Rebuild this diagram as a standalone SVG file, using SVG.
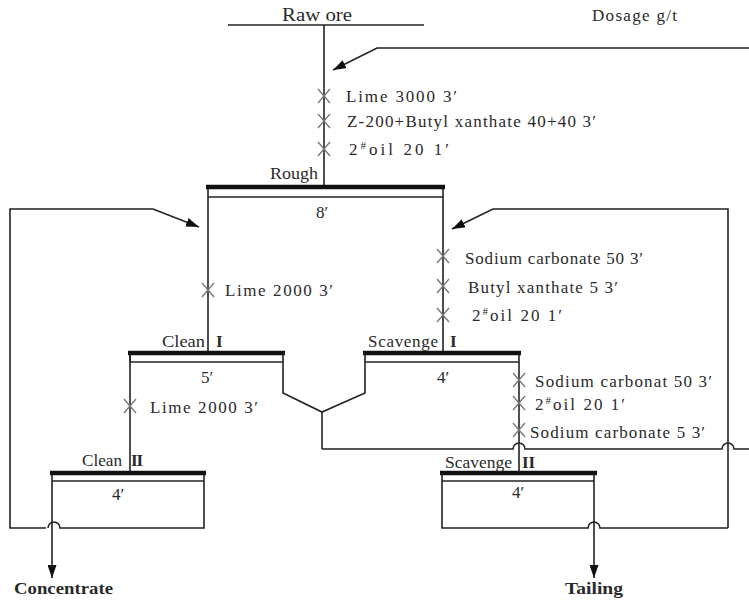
<svg xmlns="http://www.w3.org/2000/svg" width="749" height="605" viewBox="0 0 749 605">
<style>
text{font-family:"Liberation Serif","Times New Roman",serif;fill:#2a2a2a;font-size:17px}
.ln{fill:none;stroke:#222;stroke-width:1.6}
.bar{stroke:#111;stroke-width:4.5}
.thin{stroke:#222;stroke-width:1.3}
.x{stroke:#777;stroke-width:1.3}
.big{font-size:18px}
.b{font-weight:bold;font-size:17px}
.sup{font-size:11px}
</style>
<defs>
<marker id="ah" viewBox="0 0 13 9" refX="13" refY="4.5" markerWidth="13" markerHeight="9" markerUnits="userSpaceOnUse" orient="auto"><path d="M0,0 L13,4.5 L0,9 z" fill="#111"/></marker>
<symbol id="xm" overflow="visible"><path class="x" d="M-6,-7 L6,7 M-6,7 L6,-7"/></symbol>
</defs>
<rect width="749" height="605" fill="#fff"/>

<g id="header">
<text x="282" y="21" class="big" textLength="70" lengthAdjust="spacingAndGlyphs">Raw ore</text>
<text x="592" y="21" font-size="15" textLength="85" lengthAdjust="spacing">Dosage g/t</text>
<line class="ln" x1="228" y1="25" x2="424" y2="25"/>
</g>

<g id="connectors">
<line class="ln" x1="324" y1="25" x2="324" y2="187"/>
<polyline class="ln" points="749,48 377,48 333,70" marker-end="url(#ah)"/>
<line class="ln" x1="208" y1="187" x2="208" y2="353"/>
<line class="ln" x1="443" y1="187" x2="443" y2="353"/>
<line class="ln" x1="130" y1="353" x2="130" y2="473"/>
<polyline class="ln" points="283,362 283,393 322,412 365,393 365,362"/>
<line class="ln" x1="322" y1="412" x2="322" y2="449"/>
<path class="ln" d="M322,449 L513,449 A6,6 0 0 1 525,449 L722,449 A6,6 0 0 1 734,449 L749,449"/>
<line class="ln" x1="519" y1="353" x2="519" y2="473"/>
<polyline class="ln" points="46,528 10,528 10,209 153,209 199,227" marker-end="url(#ah)"/>
<polyline class="ln" points="728,528 728,209 493,209 452,229" marker-end="url(#ah)"/>
<line class="ln" x1="52" y1="481" x2="52" y2="578" marker-end="url(#ah)"/>
<line class="ln" x1="594" y1="481" x2="594" y2="578" marker-end="url(#ah)"/>
</g>

<g id="reagents">
<use href="#xm" x="324" y="96"/>
<use href="#xm" x="324" y="121"/>
<use href="#xm" x="324" y="149"/>
<text x="346" y="102" textLength="111" lengthAdjust="spacing">Lime 3000 3′</text>
<text x="347" y="127" textLength="249" lengthAdjust="spacing">Z-200+Butyl xanthate 40+40 3′</text>
<text x="349" y="155" textLength="100" lengthAdjust="spacing">2<tspan class="sup" dy="-6">#</tspan><tspan dy="6">oil  20  1′</tspan></text>

<use href="#xm" x="208" y="290"/>
<text x="225" y="296" textLength="108" lengthAdjust="spacing">Lime 2000 3′</text>

<use href="#xm" x="443" y="256"/>
<use href="#xm" x="443" y="286"/>
<use href="#xm" x="443" y="315"/>
<text x="465" y="264" textLength="178" lengthAdjust="spacing">Sodium carbonate 50 3′</text>
<text x="468" y="293" textLength="150" lengthAdjust="spacing">Butyl xanthate 5 3′</text>
<text x="472" y="321" textLength="90" lengthAdjust="spacing">2<tspan class="sup" dy="-6">#</tspan><tspan dy="6">oil  20  1′</tspan></text>

<use href="#xm" x="130" y="406"/>
<text x="150" y="413" textLength="108" lengthAdjust="spacing">Lime 2000 3′</text>

<use href="#xm" x="519" y="380"/>
<use href="#xm" x="519" y="403"/>
<use href="#xm" x="519" y="430"/>
<text x="535" y="387" textLength="177" lengthAdjust="spacing">Sodium carbonat 50 3′</text>
<text x="535" y="410" textLength="90" lengthAdjust="spacing">2<tspan class="sup" dy="-6">#</tspan><tspan dy="6">oil 20 1′</tspan></text>
<text x="530" y="438" textLength="175" lengthAdjust="spacing">Sodium carbonate 5 3′</text>
</g>

<g id="rough">
<line class="bar" x1="206" y1="187" x2="445" y2="187"/>
<line class="thin" x1="208" y1="197" x2="443" y2="197"/>
<text x="270" y="179" textLength="48" lengthAdjust="spacingAndGlyphs">Rough</text>
<text x="316" y="218">8′</text>
</g>

<g id="clean1">
<line class="bar" x1="128" y1="353" x2="285" y2="353"/>
<line class="thin" x1="130" y1="362" x2="283" y2="362"/>
<line class="ln" x1="130" y1="353" x2="130" y2="362"/>
<line class="ln" x1="283" y1="353" x2="283" y2="362"/>
<text x="162" y="347" textLength="43" lengthAdjust="spacingAndGlyphs">Clean</text>
<text x="216" y="347" font-weight="bold">I</text>
<text x="201" y="383">5′</text>
</g>

<g id="scavenge1">
<line class="bar" x1="363" y1="353" x2="521" y2="353"/>
<line class="thin" x1="365" y1="362" x2="519" y2="362"/>
<line class="ln" x1="365" y1="353" x2="365" y2="362"/>
<text x="368" y="347" textLength="70" lengthAdjust="spacing">Scavenge</text>
<text x="450" y="347" font-weight="bold">I</text>
<text x="437" y="383">4′</text>
</g>

<g id="clean2">
<line class="bar" x1="50" y1="473" x2="206" y2="473"/>
<line class="thin" x1="52" y1="481" x2="204" y2="481"/>
<path class="ln" d="M52,473 L52,481 M204,473 L204,528 L60,528 A6,6 0 0 0 48,528"/>
<text x="82" y="466" textLength="40" lengthAdjust="spacingAndGlyphs">Clean</text>
<text x="131" y="466" font-weight="bold" textLength="12" lengthAdjust="spacing">II</text>
<text x="112" y="500">4′</text>
</g>

<g id="scavenge2">
<line class="bar" x1="440" y1="473" x2="597" y2="473"/>
<line class="thin" x1="442" y1="481" x2="594" y2="481"/>
<path class="ln" d="M594,473 L594,481 M442,473 L442,528 L588,528 A6,6 0 0 1 600,528 L728,528"/>
<text x="445" y="468" textLength="67" lengthAdjust="spacingAndGlyphs">Scavenge</text>
<text x="522" y="468" font-weight="bold" textLength="13" lengthAdjust="spacing">II</text>
<text x="512" y="498">4′</text>
</g>

<g id="outputs">
<text x="14" y="594" class="b" textLength="99" lengthAdjust="spacingAndGlyphs">Concentrate</text>
<text x="565" y="594" class="b" textLength="58" lengthAdjust="spacingAndGlyphs">Tailing</text>
</g>
</svg>
